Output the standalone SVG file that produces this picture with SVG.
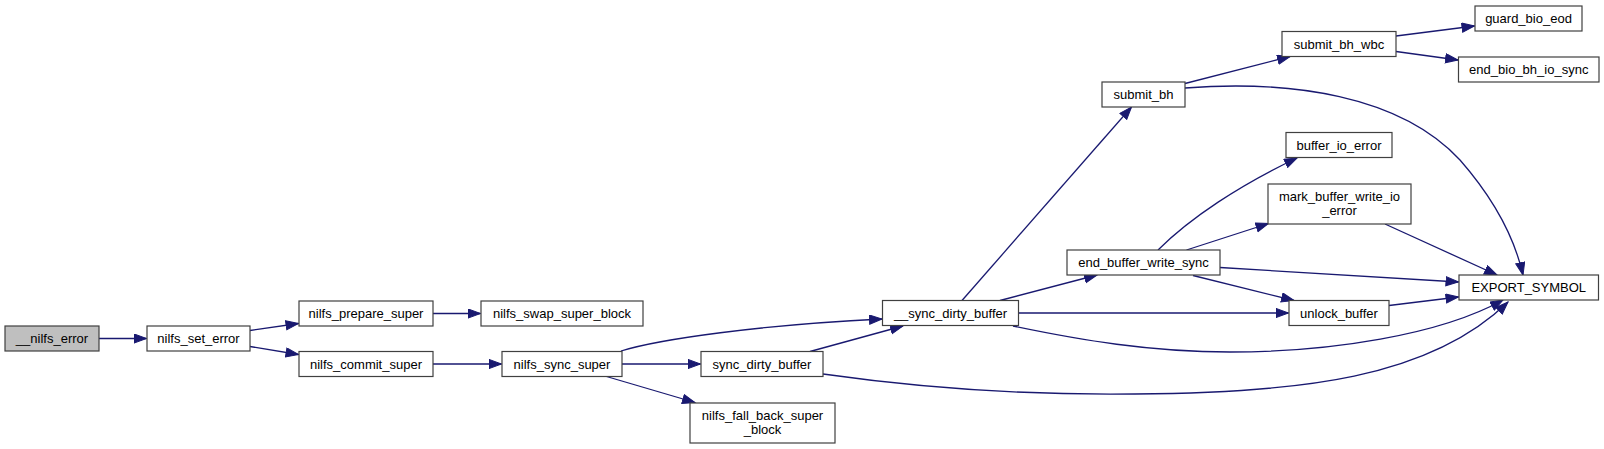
<svg xmlns="http://www.w3.org/2000/svg" width="1604" height="449" viewBox="0 0 1604 449">
<style>
.n rect{fill:#ffffff;stroke:#404040;stroke-width:1.2}
.n text{font-family:"Liberation Sans",Arial,Helvetica,sans-serif;font-size:13px;fill:#000000;text-anchor:middle}
#n0 rect{fill:#bfbfbf}
.e path{fill:none;stroke:#191970;stroke-width:1.3;marker-end:url(#ah)}
</style>
<defs>
<marker id="ah" markerUnits="userSpaceOnUse" markerWidth="16" markerHeight="12" refX="13" refY="5" orient="auto">
<path d="M0.5,0.4 L13,5 L0.5,9.6 z" fill="#191970" stroke="#191970" stroke-width="1"/>
</marker>
</defs>
<rect width="1604" height="449" fill="#ffffff"/>
<g id="edges" class="e">
<path d="M99,338.5 L146.5,338.5"/>
<path d="M250,330.5 L298.5,323.5"/>
<path d="M250,346.5 L298.5,354.5"/>
<path d="M433,313.5 L480.5,313.5"/>
<path d="M433,364 L501.5,364"/>
<path d="M621,351 C660,339 760,325 882,319"/>
<path d="M622,364 L700.5,364"/>
<path d="M606.5,376.5 L695,402.5"/>
<path d="M810,351.5 L903,326"/>
<path d="M823,374 C950,392 1050,395 1135,394 C1300,393 1430,378 1508,302"/>
<path d="M1013,326 C1080,340 1150,352 1230,352 C1330,352 1440,335 1503,300"/>
<path d="M962,300.5 L1131.5,107"/>
<path d="M1000,300.5 L1097,275"/>
<path d="M1018.5,313 L1288.5,313"/>
<path d="M1158,250 C1190,218 1240,185 1297,158"/>
<path d="M1186.5,250 L1268.5,223.5"/>
<path d="M1220,267.5 L1458.5,282"/>
<path d="M1193,275.5 L1294,300.5"/>
<path d="M1385,224 L1497,275"/>
<path d="M1389,305.5 L1458.5,297"/>
<path d="M1185,88 C1290,80 1400,95 1460,160 C1495,200 1515,240 1523,275"/>
<path d="M1185,83.5 L1290,56.5"/>
<path d="M1396,36 L1474.5,26"/>
<path d="M1396,51.5 L1458,60"/>
</g>
<g id="n0" class="n"><rect x="5" y="326" width="94" height="25"/><text x="52" y="343">__nilfs_error</text></g>
<g id="n1" class="n"><rect x="147" y="326" width="103" height="25"/><text x="198.5" y="343">nilfs_set_error</text></g>
<g id="n2" class="n"><rect x="299" y="301" width="134" height="25"/><text x="366" y="318">nilfs_prepare_super</text></g>
<g id="n3" class="n"><rect x="299" y="351.5" width="134" height="25"/><text x="366" y="368.5">nilfs_commit_super</text></g>
<g id="n4" class="n"><rect x="481" y="301" width="162" height="25"/><text x="562" y="318">nilfs_swap_super_block</text></g>
<g id="n5" class="n"><rect x="502" y="351.5" width="120" height="25"/><text x="562" y="368.5">nilfs_sync_super</text></g>
<g id="n6" class="n"><rect x="701" y="351.5" width="122" height="25"/><text x="762" y="368.5">sync_dirty_buffer</text></g>
<g id="n7" class="n"><rect x="690" y="403" width="145" height="40"/><text x="762.5" y="420">nilfs_fall_back_super</text><text x="762.5" y="433.5">_block</text></g>
<g id="n8" class="n"><rect x="882.5" y="300.5" width="136" height="25"/><text x="950.5" y="317.5">__sync_dirty_buffer</text></g>
<g id="n9" class="n"><rect x="1067" y="250" width="153" height="25"/><text x="1143.5" y="267">end_buffer_write_sync</text></g>
<g id="n10" class="n"><rect x="1102" y="82" width="83" height="25"/><text x="1143.5" y="99">submit_bh</text></g>
<g id="n11" class="n"><rect x="1282" y="31.5" width="114" height="25"/><text x="1339" y="48.5">submit_bh_wbc</text></g>
<g id="n12" class="n"><rect x="1475" y="6" width="107" height="25"/><text x="1528.5" y="23">guard_bio_eod</text></g>
<g id="n13" class="n"><rect x="1458.5" y="57" width="140.5" height="25"/><text x="1528.75" y="74">end_bio_bh_io_sync</text></g>
<g id="n14" class="n"><rect x="1286" y="132.5" width="106" height="25"/><text x="1339" y="149.5">buffer_io_error</text></g>
<g id="n15" class="n"><rect x="1268" y="184" width="143" height="40"/><text x="1339.5" y="201">mark_buffer_write_io</text><text x="1339.5" y="214.5">_error</text></g>
<g id="n16" class="n"><rect x="1459" y="275" width="139.5" height="25"/><text x="1528.75" y="292">EXPORT_SYMBOL</text></g>
<g id="n17" class="n"><rect x="1289" y="300.5" width="100" height="25"/><text x="1339" y="317.5">unlock_buffer</text></g>
</svg>
